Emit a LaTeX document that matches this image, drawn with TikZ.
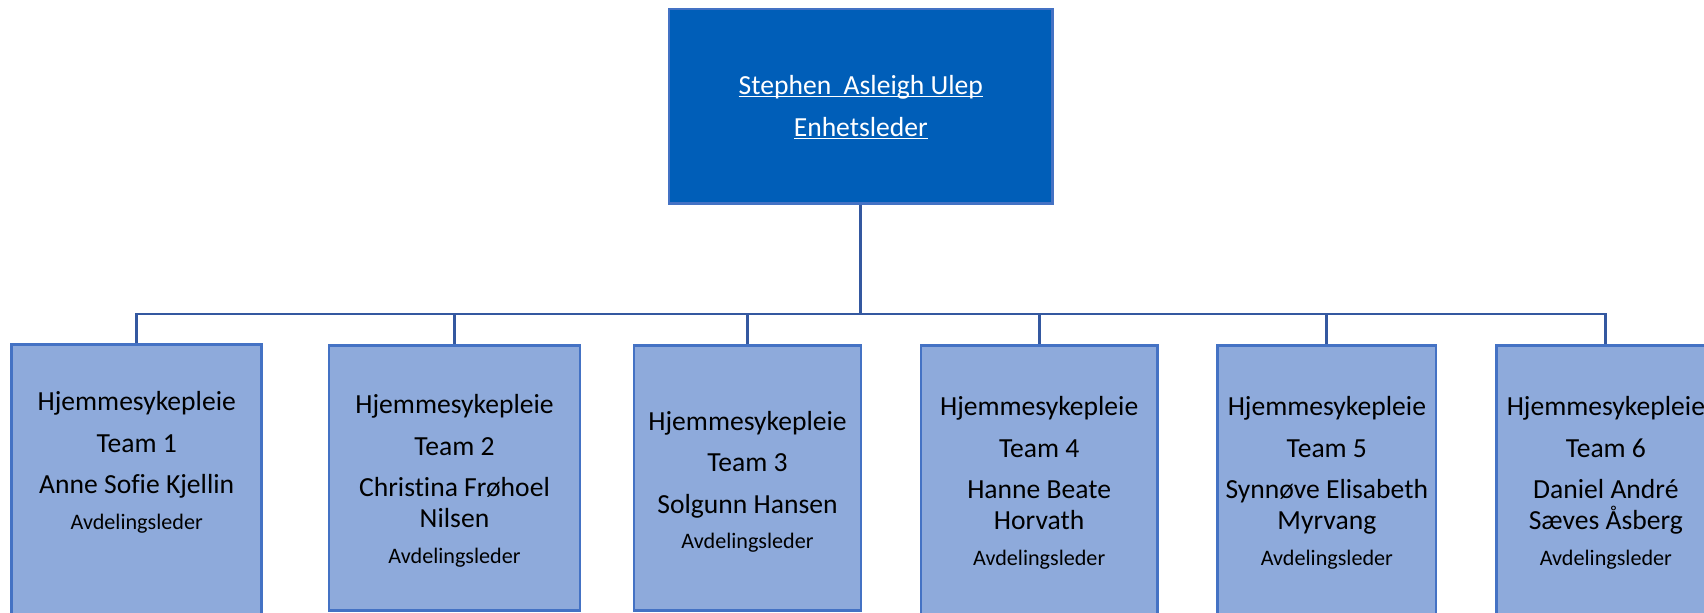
\documentclass[tikz,border=0pt]{standalone}
\usepackage{fontspec}
\setmainfont{Carlito}[Ligatures=NoCommon]
\usepackage{xcolor}
\usepackage{tikz}
\usetikzlibrary{positioning}

\definecolor{leadfill}{RGB}{0,94,184}
\definecolor{teamfill}{RGB}{142,170,219}
\definecolor{boxline}{RGB}{68,114,196}
\definecolor{linkline}{RGB}{52,88,160}

\newcommand{\bigtext}{\fontsize{20.7pt}{23.25pt}\selectfont}
\newcommand{\smalltext}{\fontsize{16.6pt}{19pt}\selectfont}
\newcommand{\uline}[1]{\underline{\smash{#1}}}

\tikzset{
  leadbox/.style={draw=boxline, fill=leadfill, line width=1.9pt, rectangle, inner sep=0pt},
  teambox/.style={draw=boxline, fill=teamfill, line width=1.9pt, rectangle, inner sep=0pt},
  teamtext/.style={align=center, inner sep=0pt, anchor=base, font=\bigtext},
  link/.style={draw=linkline, line width=2.1pt},
}

\begin{document}
\begin{tikzpicture}[x=0.75pt,y=0.75pt,yscale=-1,xscale=1]
\useasboundingbox (0,0) rectangle (1704,612);
\clip (0,0) rectangle (1704,612);

% Boxes
\node[leadbox, minimum width=287.8pt, minimum height=146pt] (lead) at (860.8,106.35) {};
\node[teambox, minimum width=187.5pt, minimum height=203.8pt] (team1) at (136.7,480.15) {};
\node[teambox, minimum width=188.25pt, minimum height=198.75pt] (team2) at (454.5,478.2) {};
\node[teambox, minimum width=170.25pt, minimum height=198.75pt] (team3) at (747.5,478.2) {};
\node[teambox, minimum width=177.2pt, minimum height=202.7pt] (team4) at (1039.15,480.85) {};
\node[teambox, minimum width=163.7pt, minimum height=202.7pt] (team5) at (1326.85,480.85) {};
\node[teambox, minimum width=163.7pt, minimum height=202.7pt] (team6) at (1605.85,480.85) {};

% Connectors
\coordinate (bar) at (860.8,314);
\draw[link] (lead.south) -- (bar);
\foreach \i in {1,...,6}
  \draw[link] (bar) -| (team\i.north);

% Text Node
\node[teamtext, text=white] (leadtext) at (860.8,136) {\uline{Stephen~~Asleigh Ulep}\\[7.9pt] \uline{Enhetsleder}};
% Text Node
\node[teamtext] (text1) at (136.7,529.3) {Hjemmesykepleie\\[7.9pt] Team 1\\[7.9pt] Anne Sofie Kjellin\\[3.3pt] {\smalltext Avdelingsleder}};
% Text Node
\node[teamtext] (text2) at (454.5,563.3) {Hjemmesykepleie\\[7.9pt] Team 2\\[7.9pt] Christina Frøhoel\\ Nilsen\\[3.3pt] {\smalltext Avdelingsleder}};
% Text Node
\node[teamtext] (text3) at (747.5,548.7) {Hjemmesykepleie\\[7.9pt] Team 3\\[7.9pt] Solgunn Hansen\\[3.3pt] {\smalltext Avdelingsleder}};
% Text Node
\node[teamtext] (text4) at (1039.15,565) {Hjemmesykepleie\\[7.9pt] Team 4\\[7.9pt] Hanne Beate\\ Horvath\\[3.3pt] {\smalltext Avdelingsleder}};
% Text Node
\node[teamtext] (text5) at (1326.85,565) {Hjemmesykepleie\\[7.9pt] Team 5\\[7.9pt] Synnøve Elisabeth\\ Myrvang\\[3.3pt] {\smalltext Avdelingsleder}};
% Text Node
\node[teamtext] (text6) at (1605.85,565) {Hjemmesykepleie\\[7.9pt] Team 6\\[7.9pt] Daniel André\\ Sæves Åsberg\\[3.3pt] {\smalltext Avdelingsleder}};

\end{tikzpicture}
\end{document}
